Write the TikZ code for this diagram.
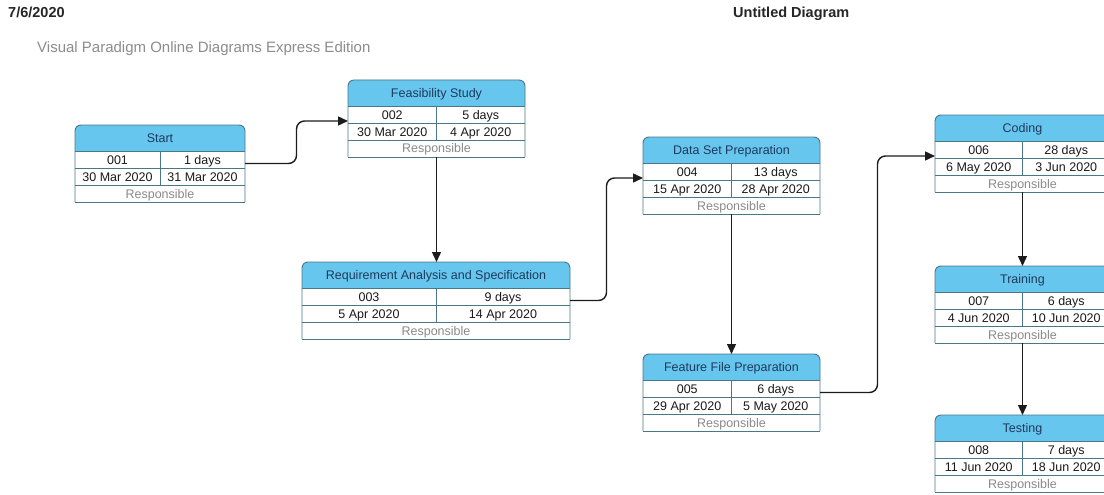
\documentclass[tikz,border=0pt]{standalone}
\usepackage{fontspec}
\setmainfont{Liberation Sans}
\usetikzlibrary{arrows.meta,calc}

\definecolor{hdrfill}{HTML}{66C6EE}
\definecolor{boxline}{HTML}{4A7787}
\definecolor{hdrtext}{HTML}{1E3A5C}
\definecolor{celltext}{HTML}{1A1A1A}
\definecolor{resptext}{HTML}{8A8A8A}
\definecolor{subtitle}{HTML}{8C8C8C}
\definecolor{flowline}{HTML}{1C1C1C}

\tikzset{
  x=1pt, y=-1pt,
  boxframe/.style={draw=boxline, line width=0.9pt},
  hdrlbl/.style={anchor=base, inner sep=0pt, text=hdrtext, font=\fontsize{12.5}{14}\selectfont},
  celllbl/.style={anchor=base, inner sep=0pt, text=celltext, font=\fontsize{12.5}{14}\selectfont},
  resplbl/.style={anchor=base, inner sep=0pt, text=resptext, font=\fontsize{12.5}{14}\selectfont},
  flow/.style={draw=flowline, line width=1.4pt, -{Triangle[length=10pt,width=9pt]}},
}

% #1 name, #2 left x, #3 top y, #4 width, #5 title, #6 id, #7 duration, #8 start, #9 end
\newcommand\taskbox[9]{%
  \pgfmathsetmacro\tbR{#2+#4}%
  \pgfmathsetmacro\tbM{#2+#4/2}%
  \pgfmathsetmacro\tbA{#2+#4/4}%
  \pgfmathsetmacro\tbB{#2+3*#4/4}%
  \node[inner sep=0pt, outer sep=0pt, minimum width=#4pt, minimum height=77pt,
        anchor=north west] (#1) at (#2,#3) {};
  \coordinate (#1-in) at (#2,#3+41);
  \fill[hdrfill, rounded corners=6pt] (#2,#3+26) -- (#2,#3) -- (\tbR,#3) -- (\tbR,#3+26);
  \fill[white] (#2,#3+26) rectangle (\tbR,#3+77);
  \draw[boxframe, rounded corners=6pt] (#2,#3+77) -- (#2,#3) -- (\tbR,#3) -- (\tbR,#3+77);
  \draw[boxframe] (#2,#3+77) -- (\tbR,#3+77);
  \draw[boxframe] (#2,#3+26) -- (\tbR,#3+26);
  \draw[boxframe] (#2,#3+43) -- (\tbR,#3+43);
  \draw[boxframe] (#2,#3+60) -- (\tbR,#3+60);
  \draw[boxframe] (\tbM,#3+26) -- (\tbM,#3+60);
  \node[hdrlbl] (#1-t) at (\tbM,#3+17.5) {#5};
  \node[celllbl] (#1-id) at (\tbA,#3+39) {#6};
  \node[celllbl] (#1-d) at (\tbB,#3+39) {#7};
  \node[celllbl] (#1-s) at (\tbA,#3+56) {#8};
  \node[celllbl] (#1-e) at (\tbB,#3+56) {#9};
  \node[resplbl] (#1-r) at (\tbM,#3+73) {Responsible};
}

\begin{document}
\begin{tikzpicture}
\useasboundingbox (0,0) rectangle (1104,495);
\clip (0,0) rectangle (1104,495);
\fill[white] (0,0) rectangle (1104,495);

% page header
\node[anchor=base west, inner sep=0pt, font=\fontsize{14.5}{16}\selectfont\bfseries, text=black!85] (date) at (8,18) {7/6/2020};
\node[anchor=base west, inner sep=0pt, font=\fontsize{14.5}{16}\selectfont\bfseries, text=black!85] (doctitle) at (733,18) {Untitled Diagram};
\node[anchor=base west, inner sep=0pt, font=\fontsize{15}{17}\selectfont, text=subtitle] (edition) at (37,53) {Visual Paradigm Online Diagrams Express Edition};

% task boxes
\taskbox{start}{75}{125}{170}{Start}{001}{1 days}{30 Mar 2020}{31 Mar 2020}
\taskbox{feas}{348}{80}{177}{Feasibility Study}{002}{5 days}{30 Mar 2020}{4 Apr 2020}
\taskbox{req}{302}{262}{268}{Requirement Analysis and Specification}{003}{9 days}{5 Apr 2020}{14 Apr 2020}
\taskbox{data}{643}{137}{177}{Data Set Preparation}{004}{13 days}{15 Apr 2020}{28 Apr 2020}
\taskbox{feat}{643}{354}{177}{Feature File Preparation}{005}{6 days}{29 Apr 2020}{5 May 2020}
\taskbox{code}{935}{115}{175}{Coding}{006}{28 days}{6 May 2020}{3 Jun 2020}
\taskbox{train}{935}{266}{175}{Training}{007}{6 days}{4 Jun 2020}{10 Jun 2020}
\taskbox{test}{935}{415}{175}{Testing}{008}{7 days}{11 Jun 2020}{18 Jun 2020}

% dependencies
\draw[flow, rounded corners=8pt] (start.east) -| ($(start.east)!0.5!(feas-in)$) |- (feas-in);
\draw[flow] (feas.south) -- (feas.south |- req.north);
\draw[flow, rounded corners=8pt] (req.east) -| ($(req.east)!0.5!(data-in)$) |- (data-in);
\draw[flow] (data.south) -- (feat.north);
\draw[flow, rounded corners=8pt] (feat.east) -| ($(feat.east)!0.5!(code-in)$) |- (code-in);
\draw[flow] (code.south) -- (train.north);
\draw[flow] (train.south) -- (test.north);
\end{tikzpicture}
\end{document}
